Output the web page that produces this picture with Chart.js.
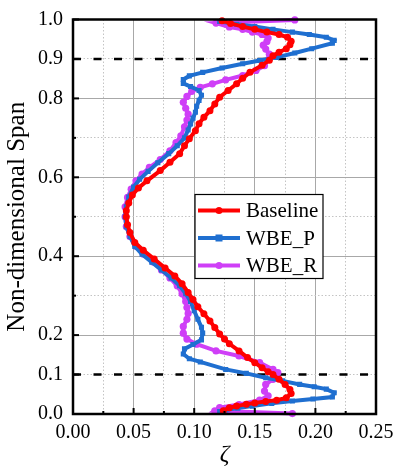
<!DOCTYPE html>
<html><head><meta charset="utf-8">
<script src="https://cdn.jsdelivr.net/npm/chart.js@4.4.1/dist/chart.umd.min.js"></script>
<style>html,body{margin:0;padding:0;background:#fff}#wrap{width:395px;height:469px}</style>
</head><body><div id="wrap"><canvas id="c" width="395" height="469"></canvas></div>
<script>
const seriesNames = ['Baseline', 'WBE_P', 'WBE_R'];
const seriesColors = ['#ff0000', '#1f6fd0', '#cf3ff7'];

const baselineSpan = [0.997,0.990,0.982,0.975,0.968,0.962,0.955,0.945,0.936,0.926,0.917,0.908,0.897,0.884,0.866,0.851,0.837,0.820,0.803,0.786,0.769,0.752,0.736,0.718,0.698,0.680,0.660,0.638,0.617,0.591,0.573,0.555,0.535,0.515,0.500,0.480,0.460,0.435,0.415,0.393,0.370,0.350,0.330,0.308,0.290,0.272,0.254,0.236,0.219,0.203,0.190,0.178,0.160,0.143,0.130,0.117,0.107,0.100,0.088,0.075,0.062,0.052,0.041,0.035,0.032,0.028,0.025,0.020,0.016,0.008];
const baselineZeta = [0.123,0.130,0.140,0.150,0.160,0.170,0.177,0.180,0.179,0.176,0.170,0.165,0.162,0.156,0.146,0.140,0.135,0.128,0.121,0.117,0.113,0.108,0.104,0.101,0.096,0.092,0.088,0.080,0.072,0.061,0.054,0.049,0.046,0.044,0.044,0.045,0.047,0.051,0.058,0.067,0.076,0.084,0.090,0.095,0.099,0.103,0.108,0.113,0.117,0.121,0.125,0.129,0.137,0.144,0.150,0.156,0.161,0.165,0.170,0.175,0.179,0.180,0.176,0.168,0.159,0.150,0.143,0.135,0.129,0.124];

const wbePSpan = [0.995,0.988,0.982,0.975,0.968,0.962,0.955,0.947,0.940,0.926,0.915,0.904,0.896,0.888,0.877,0.866,0.857,0.848,0.838,0.830,0.820,0.808,0.795,0.780,0.765,0.750,0.735,0.720,0.700,0.680,0.660,0.637,0.615,0.595,0.575,0.550,0.525,0.500,0.475,0.450,0.425,0.405,0.385,0.365,0.345,0.325,0.305,0.285,0.262,0.240,0.220,0.205,0.188,0.176,0.165,0.152,0.140,0.132,0.113,0.103,0.092,0.084,0.075,0.069,0.063,0.054,0.043,0.038,0.033,0.027,0.020,0.015,0.010,0.006];
const wbePZeta = [0.121,0.135,0.150,0.165,0.181,0.195,0.209,0.2155,0.214,0.197,0.183,0.168,0.154,0.140,0.123,0.107,0.096,0.091,0.091,0.097,0.104,0.106,0.104,0.102,0.101,0.099,0.097,0.095,0.092,0.086,0.079,0.070,0.062,0.055,0.050,0.046,0.044,0.043,0.044,0.047,0.051,0.057,0.065,0.073,0.081,0.088,0.093,0.097,0.100,0.103,0.106,0.107,0.106,0.099,0.092,0.091,0.096,0.105,0.126,0.143,0.159,0.173,0.187,0.199,0.209,0.2155,0.214,0.198,0.181,0.164,0.148,0.136,0.126,0.121];

const wbeRSpan = [0.999,0.991,0.981,0.975,0.968,0.962,0.953,0.944,0.935,0.925,0.912,0.898,0.883,0.871,0.858,0.847,0.837,0.828,0.818,0.805,0.790,0.775,0.760,0.745,0.728,0.705,0.688,0.667,0.645,0.625,0.608,0.591,0.570,0.549,0.525,0.500,0.475,0.450,0.425,0.405,0.385,0.365,0.345,0.325,0.305,0.285,0.270,0.255,0.240,0.222,0.205,0.190,0.177,0.160,0.147,0.130,0.113,0.105,0.088,0.075,0.058,0.046,0.035,0.024,0.016,0.008,0.001];
const wbeRZeta = [0.183,0.118,0.129,0.140,0.148,0.156,0.161,0.160,0.157,0.159,0.162,0.161,0.158,0.151,0.140,0.126,0.115,0.105,0.098,0.094,0.091,0.093,0.095,0.094,0.092,0.089,0.085,0.080,0.072,0.063,0.057,0.052,0.048,0.045,0.043,0.043,0.044,0.047,0.052,0.058,0.066,0.073,0.080,0.086,0.090,0.093,0.094,0.095,0.094,0.091,0.091,0.094,0.102,0.118,0.137,0.154,0.165,0.169,0.165,0.159,0.158,0.161,0.154,0.137,0.121,0.117,0.181];

const xTickLabels = ['0.00','0.05','0.10','0.15','0.20','0.25'];
const yTickLabels = ['0.0','0.1','0.2','0.4','0.6','0.8','0.9','1.0'];
const yMajorGrid = ['0.0','0.2','0.4','0.6','0.8','1.0'];
const refSpans = [0.1, 0.9];

const FONT = "'Liberation Serif','Times New Roman',serif";
Chart.defaults.font.family = FONT;
Chart.defaults.color = '#000';

function pts(z, s) { return z.map((v, i) => ({ x: v, y: s[i] })); }
const pointStyles = ['circle', 'rect', 'circle'];
const pointRadii = [3.5, 3.6, 3.6];
const seriesData = [pts(baselineZeta, baselineSpan), pts(wbePZeta, wbePSpan), pts(wbeRZeta, wbeRSpan)];

const datasets = seriesNames.map((n, i) => ({
  label: n, data: seriesData[i], showLine: true, borderColor: seriesColors[i], backgroundColor: seriesColors[i],
  borderWidth: 4, pointRadius: pointRadii[i], pointStyle: pointStyles[i], pointBorderWidth: 0,
  tension: 0, clip: 8
}));
refSpans.forEach(r => datasets.push({
  label: 'ref', data: [{ x: 0, y: r }, { x: 0.25, y: r }], showLine: true, borderColor: '#000',
  borderWidth: 2.5, borderDash: [8, 12.5], pointRadius: 0, clip: 0
}));

const xMajor = v => Math.abs(v / 0.05 - Math.round(v / 0.05)) < 1e-6;
const yMajor = v => yMajorGrid.includes(v.toFixed(1));

const frameLegend = {
  id: 'frameLegend',
  afterDatasetsDraw(chart) {
    const ctx = chart.ctx, a = chart.chartArea;
    ctx.save();
    ctx.strokeStyle = '#000';
    ctx.lineWidth = 2;
    const xs = chart.scales.x, ys = chart.scales.y;
    xs.ticks.forEach(t => {
      const p = xs.getPixelForValue(t.value);
      const len = xMajor(t.value) ? 6 : 3;
      ctx.beginPath(); ctx.moveTo(p, a.bottom); ctx.lineTo(p, a.bottom - len); ctx.stroke();
    });
    ys.ticks.forEach(t => {
      const p = ys.getPixelForValue(t.value);
      const len = yTickLabels.includes(t.value.toFixed(1)) ? 6 : 3;
      ctx.beginPath(); ctx.moveTo(a.left, p); ctx.lineTo(a.left + len, p); ctx.stroke();
    });
    ctx.lineWidth = 2.5;
    ctx.strokeRect(a.left, a.top, a.right - a.left, a.bottom - a.top);
    // legend
    const bx = a.left + 122, by = a.top + 175, bw = 128, bh = 84;
    ctx.fillStyle = '#fff';
    ctx.fillRect(bx, by, bw, bh);
    ctx.lineWidth = 1.2;
    ctx.strokeRect(bx, by, bw, bh);
    chart.data.datasets.filter(d => seriesNames.includes(d.label)).forEach((d, i) => {
      const y = by + 16 + i * 27.5;
      ctx.strokeStyle = d.borderColor; ctx.lineWidth = 4;
      ctx.beginPath(); ctx.moveTo(bx + 3, y); ctx.lineTo(bx + 45, y); ctx.stroke();
      ctx.fillStyle = d.borderColor;
      if (d.pointStyle === 'rect') { ctx.fillRect(bx + 24 - 3.5, y - 3.5, 7, 7); }
      else { ctx.beginPath(); ctx.arc(bx + 24, y, 3.5, 0, Math.PI * 2); ctx.fill(); }
      ctx.fillStyle = '#000';
      ctx.font = "21px " + FONT;
      ctx.textBaseline = 'middle'; ctx.textAlign = 'left';
      ctx.fillText(d.label, bx + 51, y + 1);
    });
    ctx.restore();
  }
};

new Chart(document.getElementById('c'), {
  type: 'scatter',
  data: { datasets },
  options: {
    responsive: false, animation: false, devicePixelRatio: 1,
    layout: { padding: { top: 19.5, right: 19, left: 0, bottom: 0 } },
    plugins: { legend: { display: false }, tooltip: { enabled: false } },
    scales: {
      x: {
        type: 'linear', position: 'bottom', min: 0, max: 0.25,
        afterFit: s => { s.height = 55; s.paddingLeft = 0; s.paddingRight = 0; },
        ticks: {
          stepSize: 0.025, autoSkip: false, maxRotation: 0, minRotation: 0, padding: 7,
          font: { size: 20, family: FONT }, color: '#000',
          callback: v => { const s = v.toFixed(2); return (xMajor(v) && xTickLabels.includes(s)) ? s : ''; }
        },
        grid: {
          drawTicks: false, lineWidth: 1,
          color: c => xMajor(c.tick.value) ? '#a8a8a8' : '#c4c4c4'
        },
        border: { display: false, dash: c => xMajor(c.tick.value) ? [] : [1.5, 2] },
        title: { display: true, text: 'ζ', font: { size: 24, style: 'italic', family: FONT }, padding: { top: 0, bottom: 0 }, color: '#000' }
      },
      y: {
        type: 'linear', position: 'left', min: 0, max: 1,
        afterFit: s => { s.width = 73; s.paddingTop = 0; s.paddingBottom = 0; },
        ticks: {
          stepSize: 0.1, autoSkip: false, padding: 10,
          font: { size: 20, family: FONT }, color: '#000',
          callback: v => { const s = v.toFixed(1); return yTickLabels.includes(s) ? s : ''; }
        },
        grid: {
          drawTicks: false, lineWidth: 1,
          color: c => yMajor(c.tick.value) ? '#a8a8a8' : '#c4c4c4'
        },
        border: { display: false, dash: c => yMajor(c.tick.value) ? [] : [1.5, 2] },
        title: { display: true, text: 'Non-dimensional Span', font: { size: 25, family: FONT }, padding: { top: 2, bottom: 0 }, color: '#000' }
      }
    }
  },
  plugins: [frameLegend]
});
</script>
</body></html>
